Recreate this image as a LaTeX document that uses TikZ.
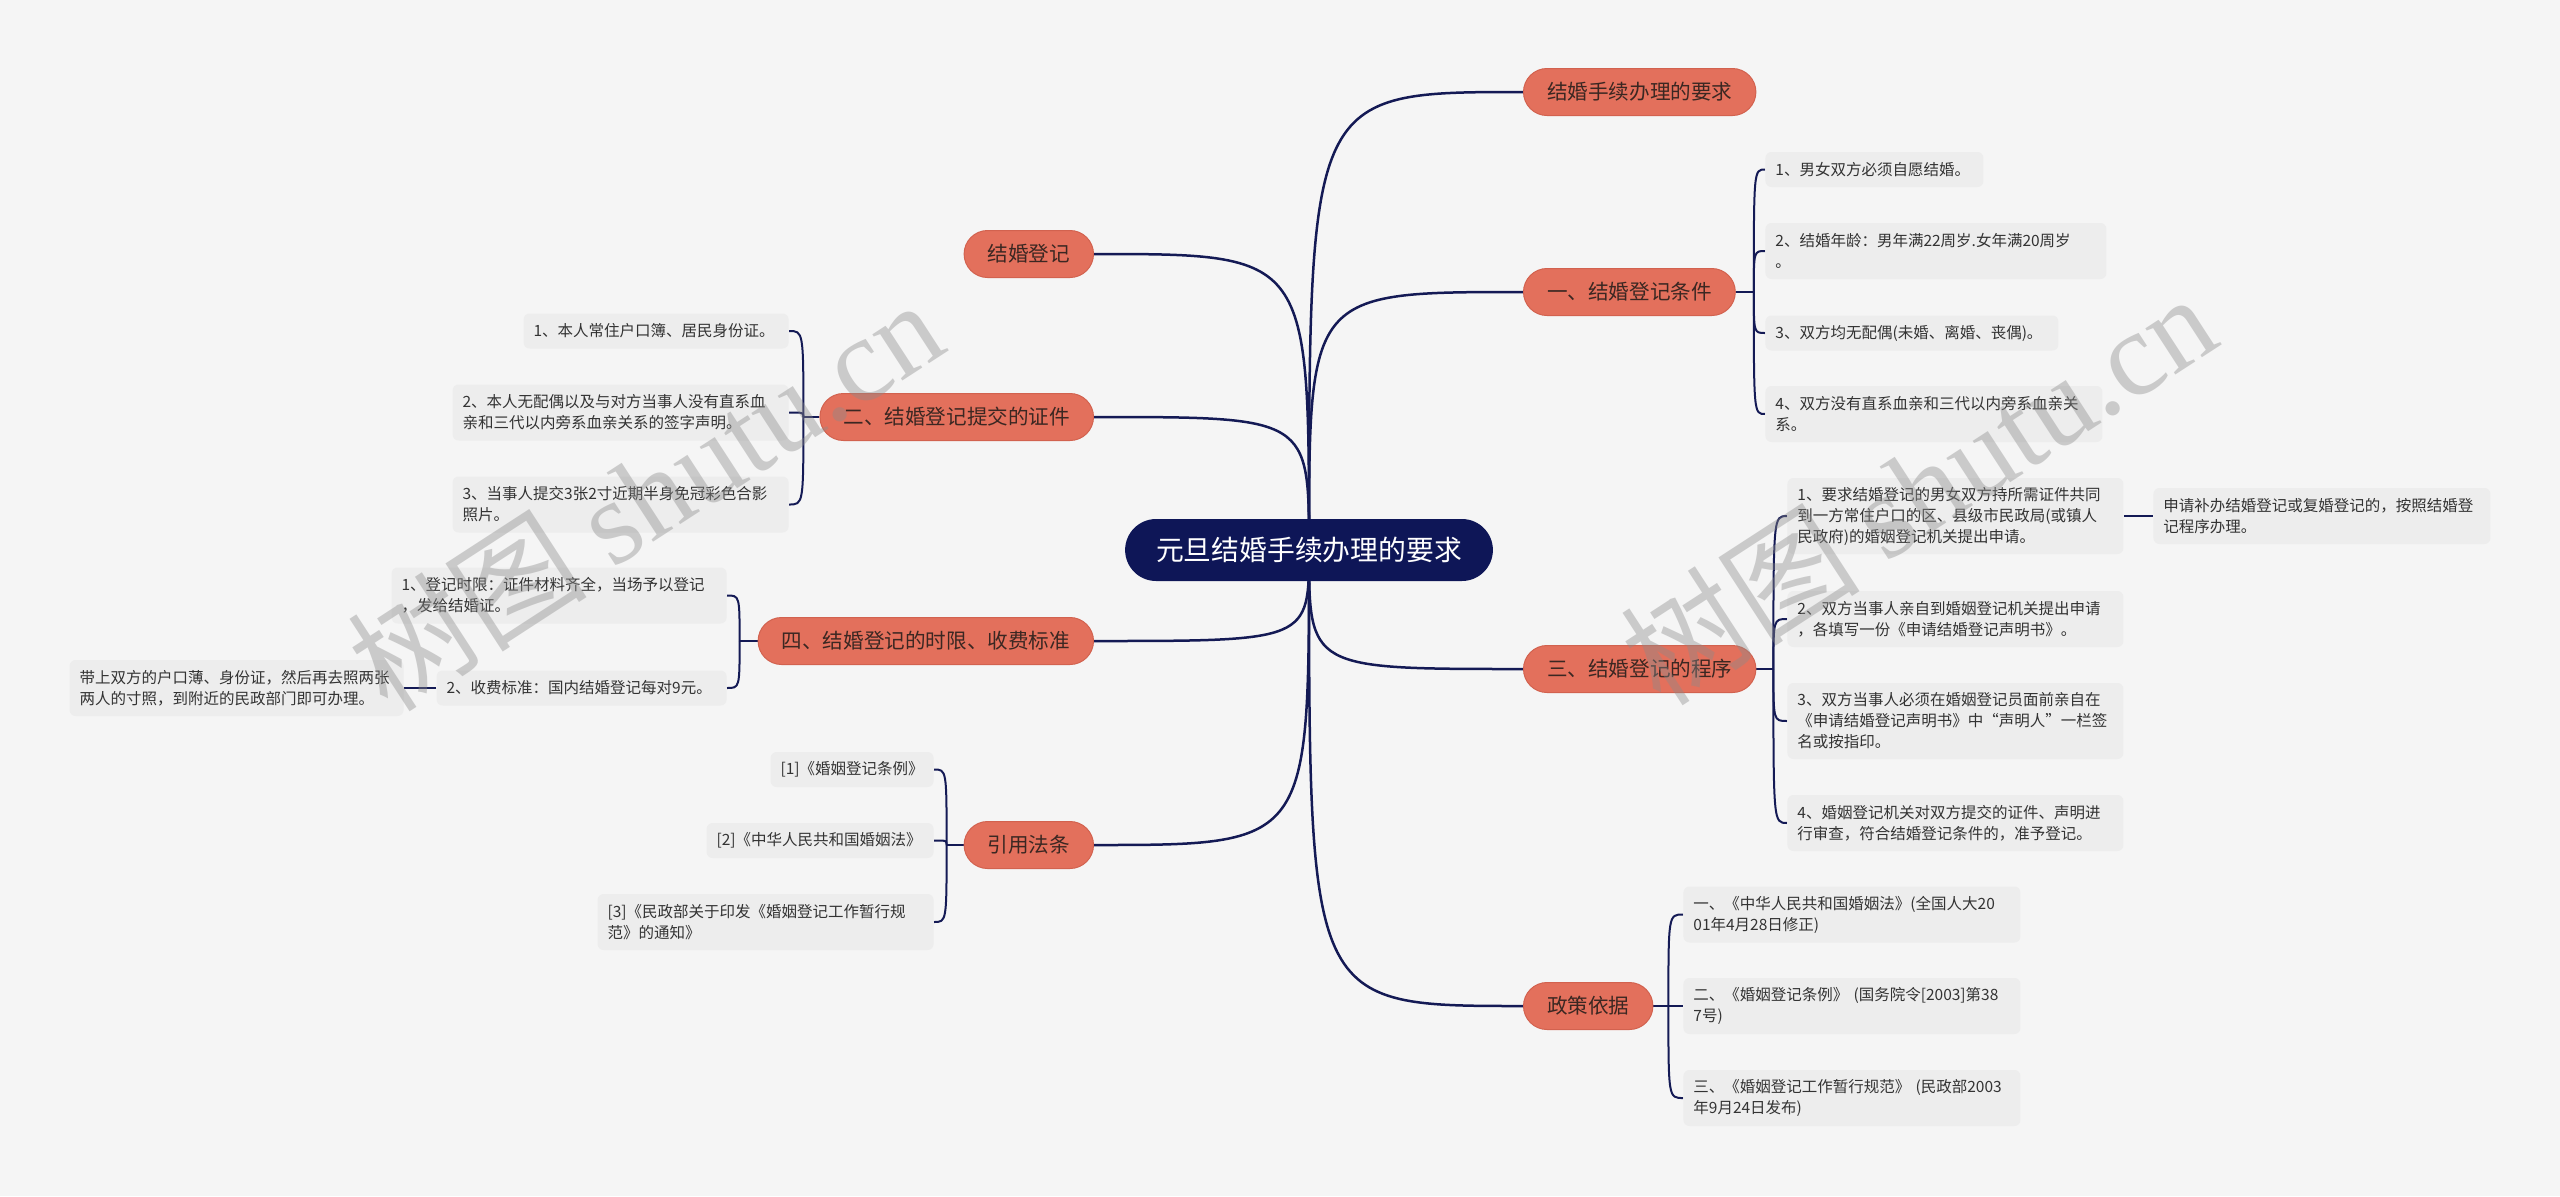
\documentclass[tikz,border=0pt]{standalone}
\usepackage{fontspec}
\setmainfont{Noto Sans CJK SC}
\newfontfamily\wmlatin{Liberation Serif}
\pgfdeclarelayer{bg}
\pgfsetlayers{bg,main}
\definecolor{bgc}{HTML}{F5F5F5}
\definecolor{leaffill}{HTML}{EDEDED}
\definecolor{leaftext}{HTML}{333333}
\definecolor{branchfill}{HTML}{E3705C}
\definecolor{branchdraw}{HTML}{D2624F}
\definecolor{branchtext}{HTML}{3B2722}
\definecolor{rootfill}{HTML}{0E1657}
\definecolor{linec}{HTML}{141A55}
\definecolor{wmc}{HTML}{8A8A8A}
\tikzset{
  rootnode/.style={fill=rootfill, text=white, font=\fontsize{13.9pt}{17pt}\selectfont,
    rounded corners=15.5pt, minimum height=31pt, inner xsep=15.5pt, inner ysep=0pt},
  branch/.style={fill=branchfill, draw=branchdraw, line width=0.5pt, text=branchtext,
    font=\fontsize{10.3pt}{12pt}\selectfont, rounded corners=11.75pt,
    minimum height=23.5pt, inner xsep=11.75pt, inner ysep=0pt},
  leaf/.style={fill=leaffill, text=leaftext, font=\fontsize{7.75pt}{10.5pt}\selectfont,
    rounded corners=3pt, inner xsep=5pt, inner ysep=0pt, align=left},
  leafa/.style={leaf, minimum height=17.5pt},
  leafb/.style={leaf, minimum height=28pt},
  leafc/.style={leaf, minimum height=38pt},
  mainline/.style={draw=linec, line width=1.25pt},
  brline/.style={draw=linec, line width=1pt},
  wm/.style={text=wmc, opacity=0.4, font=\fontsize{60pt}{64pt}\selectfont}
}
\begin{document}
\begin{tikzpicture}[x=0.5pt, y=-0.5pt]
\begin{pgfonlayer}{bg}
\fill[bgc] (0,0) rectangle (2560,1196);
\end{pgfonlayer}
\useasboundingbox (0,0) rectangle (2560,1196);

% root
\node[rootnode] (root) at (1309,550) {元旦结婚手续办理的要求};

% right branches
\node[branch, anchor=west] (t1) at (1523,92) {结婚手续办理的要求};
\node[branch, anchor=west] (t2) at (1523,292) {一、结婚登记条件};
\node[branch, anchor=west] (t3) at (1523,669) {三、结婚登记的程序};
\node[branch, anchor=west] (t4) at (1523,1006) {政策依据};

% left branches
\node[branch, anchor=east] (l1) at (1094,254) {结婚登记};
\node[branch, anchor=east] (l2) at (1094,417) {二、结婚登记提交的证件};
\node[branch, anchor=east] (l3) at (1094,641) {四、结婚登记的时限、收费标准};
\node[branch, anchor=east] (l4) at (1094,845) {引用法条};

% leaves of t2
\node[leafa, anchor=west, text width=99pt] (a1) at (1765,169.5) {1、男女双方必须自愿结婚。};
\node[leafb, anchor=west, text width=160.5pt] (a2) at (1765,251) {2、结婚年龄：男年满22周岁.女年满20周岁\\。};
\node[leafa, anchor=west, text width=136.5pt] (a3) at (1765,333) {3、双方均无配偶(未婚、离婚、丧偶)。};
\node[leafb, anchor=west, text width=158.5pt] (a4) at (1765,414) {4、双方没有直系血亲和三代以内旁系血亲关\\系。};

% leaves of t3
\node[leafc, anchor=west, text width=158pt] (b1) at (1787,516) {1、要求结婚登记的男女双方持所需证件共同\\到一方常住户口的区、县级市民政局(或镇人\\民政府)的婚姻登记机关提出申请。};
\node[leafb, anchor=west, text width=158.5pt] (b1x) at (2153,516) {申请补办结婚登记或复婚登记的，按照结婚登\\记程序办理。};
\node[leafb, anchor=west, text width=158pt] (b2) at (1787,619) {2、双方当事人亲自到婚姻登记机关提出申请\\，各填写一份《申请结婚登记声明书》。};
\node[leafc, anchor=west, text width=158pt] (b3) at (1787,721) {3、双方当事人必须在婚姻登记员面前亲自在\\《申请结婚登记声明书》中“声明人”一栏签\\名或按指印。};
\node[leafb, anchor=west, text width=158pt] (b4) at (1787,823) {4、婚姻登记机关对双方提交的证件、声明进\\行审查，符合结婚登记条件的，准予登记。};

% leaves of t4
\node[leafb, anchor=west, text width=158.5pt] (p1) at (1683,914.5) {一、《中华人民共和国婚姻法》(全国人大20\\01年4月28日修正)};
\node[leafb, anchor=west, text width=158.5pt] (p2) at (1683,1006) {二、《婚姻登记条例》~(国务院令[2003]第38\\7号)};
\node[leafb, anchor=west, text width=158.5pt] (p3) at (1683,1098) {三、《婚姻登记工作暂行规范》~(民政部2003\\年9月24日发布)};

% leaves of l2
\node[leafa, anchor=east, text width=122.5pt] (e1) at (789,331) {1、本人常住户口簿、居民身份证。};
\node[leafb, anchor=east, text width=158pt] (e2) at (789,412.5) {2、本人无配偶以及与对方当事人没有直系血\\亲和三代以内旁系血亲关系的签字声明。};
\node[leafb, anchor=east, text width=158pt] (e3) at (789,504.5) {3、当事人提交3张2寸近期半身免冠彩色合影\\照片。};

% leaves of l3
\node[leafb, anchor=east, text width=157.5pt] (f1) at (727,595.5) {1、登记时限：证件材料齐全，当场予以登记\\，发给结婚证。};
\node[leafa, anchor=east, text width=135pt] (f2) at (727,688) {2、收费标准：国内结婚登记每对9元。};
\node[leafb, anchor=east, text width=157pt] (f2x) at (404,688) {带上双方的户口薄、身份证，然后再去照两张\\两人的寸照，到附近的民政部门即可办理。};

% leaves of l4
\node[leafa, anchor=east, text width=71.5pt] (g1) at (934,769.5) {[1]《婚姻登记条例》};
\node[leafa, anchor=east, text width=103.5pt] (g2) at (934,840.5) {[2]《中华人民共和国婚姻法》};
\node[leafb, anchor=east, text width=158pt] (g3) at (934,922) {[3]《民政部关于印发《婚姻登记工作暂行规\\范》的通知》};

\begin{pgfonlayer}{bg}
% main connectors
\foreach \t/\a in {t1/west,t2/west,t3/west,t4/west,l1/east,l2/east,l3/east,l4/east}{
  \draw[mainline] (root.center) .. controls (root.center |- \t.\a) .. (\t.\a);
}
% brackets
\draw[brline] (t2.east) -- ++(18,0) coordinate (s2);
\foreach \c in {a1,a2,a3,a4}{
  \draw[brline] (s2) .. controls (s2 |- \c.west) .. (\c.west);
}
\draw[brline] (t3.east) -- ++(17,0) coordinate (s3);
\foreach \c in {b1,b2,b3,b4}{
  \draw[brline] (s3) .. controls (s3 |- \c.west) .. (\c.west);
}
\draw[brline] (b1.east) -- (b1x.west);
\draw[brline] (t4.east) -- ++(15,0) coordinate (s4);
\foreach \c in {p1,p2,p3}{
  \draw[brline] (s4) .. controls (s4 |- \c.west) .. (\c.west);
}
\draw[brline] (l2.west) -- ++(-16,0) coordinate (m2);
\foreach \c in {e1,e2,e3}{
  \draw[brline] (m2) .. controls (m2 |- \c.east) .. (\c.east);
}
\draw[brline] (l3.west) -- ++(-18,0) coordinate (m3);
\foreach \c in {f1,f2}{
  \draw[brline] (m3) .. controls (m3 |- \c.east) .. (\c.east);
}
\draw[brline] (f2.west) -- (f2x.east);
\draw[brline] (l4.west) -- ++(-17,0) coordinate (m4);
\foreach \c in {g1,g2,g3}{
  \draw[brline] (m4) .. controls (m4 |- \c.east) .. (\c.east);
}
\end{pgfonlayer}

% watermarks
\node[wm, rotate=33] (w1) at (645,494) {树图 {\wmlatin shutu.cn}};
\node[wm, rotate=33] (w2) at (1918,488) {树图 {\wmlatin shutu.cn}};
\end{tikzpicture}
\end{document}
